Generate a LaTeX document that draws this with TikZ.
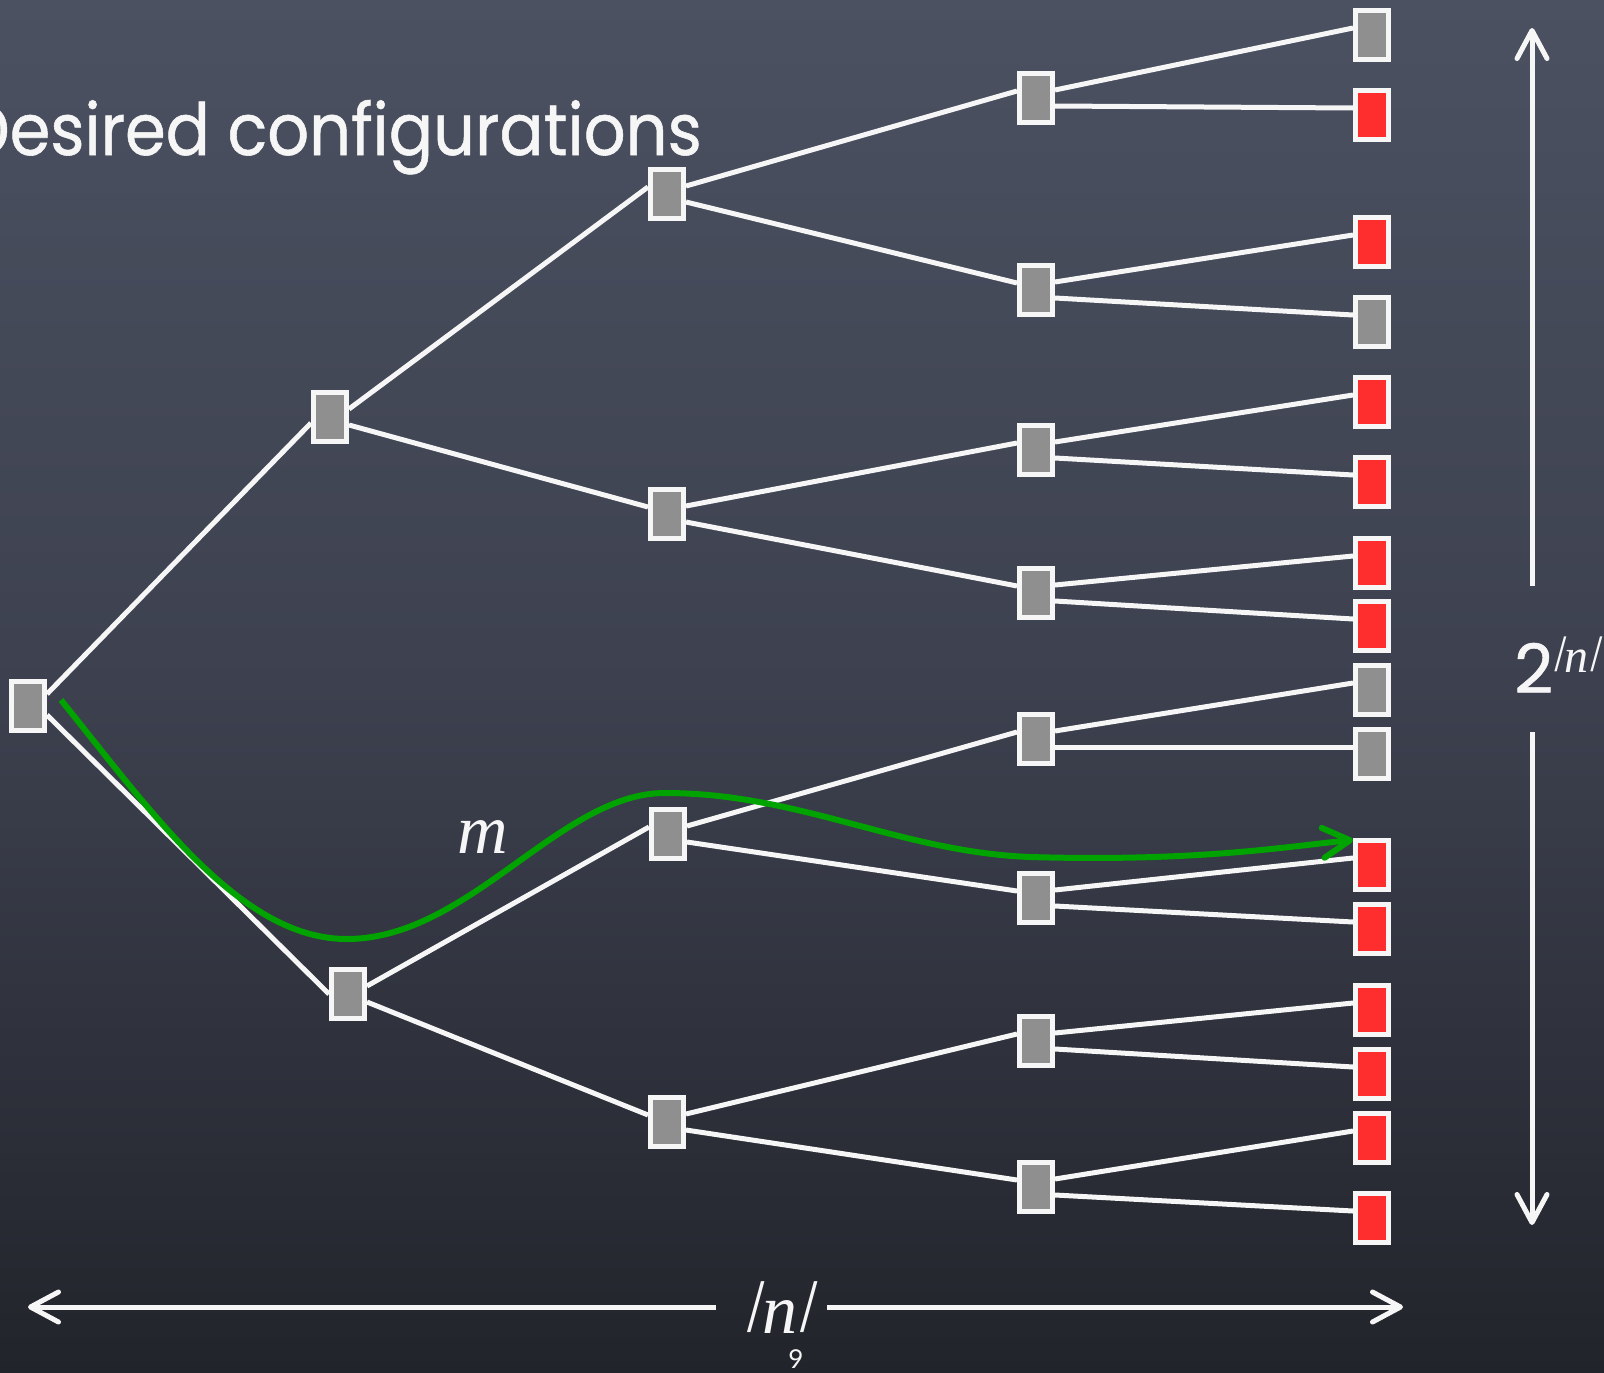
\documentclass[tikz,border=0pt]{standalone}
\usepackage{fontspec}
\usepackage{graphicx}
\setmainfont{Liberation Serif}
\newfontfamily\handfont[FakeBold=0.8]{Poppins}
\newfontfamily\pagefont{Lato}
\newfontfamily\barfont[FakeSlant=0.22]{Liberation Serif}
\usetikzlibrary{arrows.meta}

\definecolor{boardtop}{HTML}{4B5161}
\definecolor{boardmid}{HTML}{3D414F}
\definecolor{boardbot}{HTML}{22242B}
\definecolor{chalk}{HTML}{F6F6F6}
\definecolor{cellgray}{HTML}{8F8F8F}
\definecolor{cellred}{HTML}{FF2E2E}
\definecolor{pathgreen}{HTML}{00A300}

% slanted bar used for |n|
\newcommand{\slbar}{{\barfont\raisebox{0.18em}{\scalebox{1}[0.8]{|}}}}
\newcommand{\absn}{\slbar\kern0.04em\textit{n}\kern0.02em\slbar}

\pgfdeclarelayer{board}
\pgfdeclarelayer{links}
\pgfsetlayers{board,links,main}

\tikzset{
  cell/.style={rectangle, draw=chalk, line width=5pt, fill=cellgray,
    minimum width=33pt, minimum height=49pt, inner sep=0pt},
  hit/.style={cell, fill=cellred},
  branch/.style={draw=chalk, line width=5pt},
  span/.style={draw=chalk, line width=5pt, -{Straight Barb[length=28pt,width=30pt,round]}},
  route/.style={draw=pathgreen, line width=6pt, -{Straight Barb[length=27pt,width=30pt,round]}},
  lab/.style={text=chalk, inner sep=0pt},
}

\begin{document}
\begin{tikzpicture}[x=1pt,y=-1pt]
\useasboundingbox (0,0) rectangle (1604,1373);
\begin{pgfonlayer}{board}
  \fill[top color=boardtop, bottom color=boardbot, middle color=boardmid]
    (0,0) rectangle (1604,1373);
\end{pgfonlayer}

% title, running off the left edge
\begin{scope}
  \clip (0,0) rectangle (1604,1373);
  \node[lab, anchor=base east] (title) at (702,155)
    {\scalebox{0.91}[1]{\handfont\fontsize{72}{72}\selectfont Desired configurations}};
\end{scope}

% tree cells
\node[cell] (r) at (28,706) {};
\node[cell] (a1) at (330,417) {};
\node[cell] (a2) at (348,994) {};
\node[cell] (b1) at (667,194) {};
\node[cell] (b2) at (667,514) {};
\node[cell] (b3) at (668,834) {};
\node[cell] (b4) at (667,1122) {};
\node[cell] (c1) at (1036,98) {};
\node[cell] (c2) at (1036,290) {};
\node[cell] (c3) at (1036,450) {};
\node[cell] (c4) at (1036,593) {};
\node[cell] (c5) at (1036,739) {};
\node[cell] (c6) at (1036,898) {};
\node[cell] (c7) at (1036,1041) {};
\node[cell] (c8) at (1036,1187) {};

% leaves
\node[cell] (l1)  at (1372,35) {};
\node[hit]  (l2)  at (1372,115) {};
\node[hit]  (l3)  at (1372,242) {};
\node[cell] (l4)  at (1372,322) {};
\node[hit]  (l5)  at (1372,402) {};
\node[hit]  (l6)  at (1372,482) {};
\node[hit]  (l7)  at (1372,563) {};
\node[hit]  (l8)  at (1372,626) {};
\node[cell] (l9)  at (1372,690) {};
\node[cell] (l10) at (1372,754) {};
\node[hit]  (l11) at (1372,865) {};
\node[hit]  (l12) at (1372,929) {};
\node[hit]  (l13) at (1372,1010) {};
\node[hit]  (l14) at (1372,1074) {};
\node[hit]  (l15) at (1372,1138) {};
\node[hit]  (l16) at (1372,1218) {};

% branches
\begin{pgfonlayer}{links}
  \draw[branch] ([yshift=12pt]r.east) -- ([yshift=-6pt]a1.west);
  \draw[branch] ([yshift=-9pt]r.east) -- (a2.west);
  \foreach \p/\u/\d in {a1/b1/b2, a2/b3/b4, b1/c1/c2, b2/c3/c4, b3/c5/c6,
      b4/c7/c8, c1/l1/l2, c2/l3/l4, c3/l5/l6, c4/l7/l8, c5/l9/l10,
      c6/l11/l12, c7/l13/l14, c8/l15/l16} {
    \draw[branch] ([yshift=8pt]\p.east) -- ([yshift=7pt]\u.west);
    \draw[branch] ([yshift=-8pt]\p.east) -- ([yshift=7pt]\d.west);
  }
\end{pgfonlayer}

% green route
\coordinate (g0) at (61,700);
\draw[route] (g0) .. controls (150,810) and (240,940) .. (348,939)
  .. controls (470,938) and (560,793) .. (665,793)
  .. controls (800,793) and (900,852) .. (1030,857)
  .. controls (1200,862) and (1290,846) .. ([yshift=-2pt]l11.north west);
\node[lab, anchor=base] (mlab) at (483,853)
  {\fontsize{70}{70}\selectfont\textit{m}};

% horizontal span |n|
\node[lab, anchor=base] (nlab) at (779,1333)
  {\fontsize{70}{70}\selectfont\absn};
\coordinate (hl) at (28,1307);
\coordinate (hr) at (1403,1307);
\coordinate (hl0) at (716,1307);
\coordinate (hr0) at (827,1307);
\draw[span] (hl0) -- (hl);
\draw[span] (hr0) -- (hr);

% vertical span 2^|n|
\node[lab, anchor=base west] (vlab) at (1514,693)
  {\handfont\fontsize{68}{68}\selectfont 2\raisebox{0.3em}{\rmfamily\fontsize{48}{48}\selectfont\absn}};
\coordinate (vt) at (1532,28);
\coordinate (vb) at (1532,1225);
\coordinate (vu) at (1532,586);
\coordinate (vd) at (1532,732);
\draw[span] (vu) -- (vt);
\draw[span] (vd) -- (vb);

% page number
\node[lab, anchor=base] (page) at (796,1368)
  {\pagefont\fontsize{26}{26}\selectfont 9};
\end{tikzpicture}
\end{document}
